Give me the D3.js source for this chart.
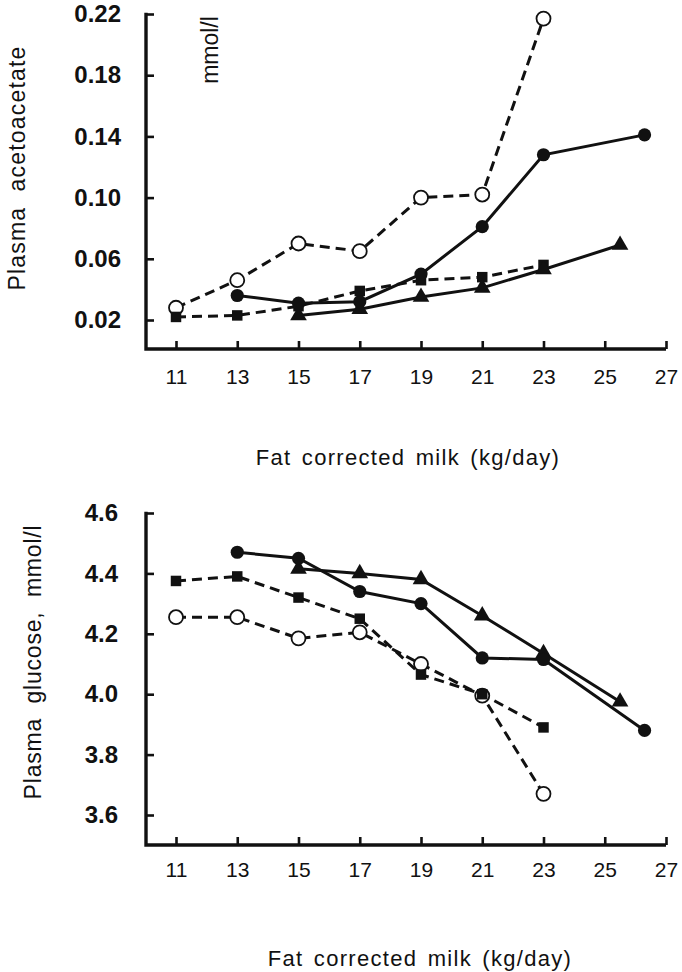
<!DOCTYPE html>
<html>
<head>
<meta charset="utf-8">
<script src="https://cdn.jsdelivr.net/npm/d3@7"></script>
<style>
  html, body { margin: 0; padding: 0; background: #fff; }
  svg { display: block; }
  text { font-family: "Liberation Sans", Arial, Helvetica, sans-serif; fill: #111; }
</style>
</head>
<body>
<svg id="chart" width="682" height="972"></svg>
<script>
// ---------- shared x axis ----------
const xTicks = [11, 13, 15, 17, 19, 21, 23, 25, 27];
const xTitle = "Fat corrected milk (kg/day)";

// ---------- top panel: plasma acetoacetate (mmol/l) ----------
const topYTicks = [0.02, 0.06, 0.10, 0.14, 0.18, 0.22];
const topYTitle = "Plasma  acetoacetate";
const topUnit = "mmol/l";

const topOpenCircleX = [11, 13, 15, 17, 19, 21, 23];
const topOpenCircleY = [0.028, 0.046, 0.070, 0.065, 0.100, 0.102, 0.217];

const topFilledCircleX = [13, 15, 17, 19, 21, 23, 26.3];
const topFilledCircleY = [0.036, 0.031, 0.032, 0.050, 0.081, 0.128, 0.141];

const topSquareX = [11, 13, 15, 17, 19, 21, 23];
const topSquareY = [0.022, 0.023, 0.029, 0.039, 0.046, 0.048, 0.056];

const topTriangleX = [15, 17, 19, 21, 23, 25.5];
const topTriangleY = [0.023, 0.027, 0.035, 0.041, 0.053, 0.069];

// ---------- bottom panel: plasma glucose (mmol/l) ----------
const botYTicks = [3.6, 3.8, 4.0, 4.2, 4.4, 4.6];
const botYTitle = "Plasma  glucose,  mmol/l";

const botFilledCircleX = [13, 15, 17, 19, 21, 23, 26.3];
const botFilledCircleY = [4.47, 4.45, 4.34, 4.30, 4.12, 4.115, 3.88];

const botTriangleX = [15, 17, 19, 21, 23, 25.5];
const botTriangleY = [4.415, 4.40, 4.38, 4.26, 4.135, 3.975];

const botSquareX = [11, 13, 15, 17, 19, 21, 23];
const botSquareY = [4.375, 4.39, 4.32, 4.25, 4.065, 4.0, 3.89];

const botOpenCircleX = [11, 13, 15, 17, 19, 21, 23];
const botOpenCircleY = [4.255, 4.255, 4.185, 4.205, 4.10, 3.995, 3.67];

// ---------- drawing ----------
const svg = d3.select("#chart");
const zip = (xs, ys) => xs.map((x, i) => ({ x, y: ys[i] }));

const INK = "#111";

function panel(cfg) {
  const x = d3.scaleLinear().domain([11, 27]).range([176, 666]);
  const y = d3.scaleLinear().domain(cfg.yDomain).range(cfg.yRange);
  const g = svg.append("g");
  const axisLeftX = 146;
  const axisY = cfg.axisY;

  // x axis
  const xa = g.append("g")
    .attr("transform", `translate(0,${axisY})`)
    .call(d3.axisBottom(x).tickValues(xTicks).tickSize(-8).tickPadding(cfg.xPad).tickFormat(d3.format("d")));
  xa.select(".domain").remove();
  xa.selectAll(".tick line").attr("stroke", INK).attr("stroke-width", 2.6);
  xa.selectAll(".tick text").style("font-size", "21px").attr("fill", INK);

  // y axis
  const ya = g.append("g")
    .attr("transform", `translate(${axisLeftX},0)`)
    .call(d3.axisLeft(y).tickValues(cfg.yTicks).tickSize(-8).tickPadding(cfg.yPad).tickFormat(cfg.yFormat));
  ya.select(".domain").remove();
  ya.selectAll(".tick line").attr("stroke", INK).attr("stroke-width", 2.6);
  ya.selectAll(".tick text").style("font-size", "24px").style("font-weight", "bold").attr("fill", INK);

  // axis lines
  const yTop = y(cfg.yDomain[1]);
  g.append("path")
    .attr("d", `M${axisLeftX},${yTop - 1.3}V${axisY}H${x(27)}`)
    .attr("fill", "none").attr("stroke", INK).attr("stroke-width", 3.4);

  // series
  const line = d3.line().x(d => x(d.x)).y(d => y(d.y));
  cfg.series.forEach(s => {
    g.append("path").datum(s.data)
      .attr("d", line)
      .attr("fill", "none").attr("stroke", INK)
      .attr("stroke-width", 3)
      .attr("stroke-dasharray", s.dashed ? "10,6" : null);
  });
  cfg.series.forEach(s => {
    const pts = g.append("g").selectAll("g").data(s.data).join("g")
      .attr("transform", d => `translate(${x(d.x)},${y(d.y)})`);
    if (s.marker === "openCircle") {
      pts.append("circle").attr("r", 7).attr("fill", "#fff").attr("stroke", INK).attr("stroke-width", 1.8);
    } else if (s.marker === "filledCircle") {
      pts.append("circle").attr("r", 6.6).attr("fill", INK);
    } else if (s.marker === "square") {
      pts.append("path").attr("d", d3.symbol(d3.symbolSquare, 110)).attr("fill", INK);
    } else if (s.marker === "triangle") {
      pts.append("path").attr("d", d3.symbol(d3.symbolTriangle, 120)).attr("fill", INK);
    }
  });

  // x title
  g.append("text")
    .attr("x", cfg.xTitleX).attr("y", cfg.xTitleY)
    .attr("text-anchor", "middle")
    .style("font-size", "22px").style("letter-spacing", "1.3px").style("word-spacing", "3px")
    .text(xTitle);

  // y title
  g.append("text")
    .attr("transform", `translate(${cfg.yTitleX},${cfg.yTitleY}) rotate(-90)`)
    .attr("text-anchor", "middle")
    .style("font-size", cfg.yTitleSize).style("letter-spacing", cfg.yTitleSpacing)
    .style("white-space", "pre")
    .text(cfg.yTitle);

  return { x, y, g };
}

const topPanel = panel({
  yDomain: [0.02, 0.22], yRange: [320, 14], axisY: 349,
  yTicks: topYTicks, yFormat: d3.format(".2f"), yPad: 25, xPad: 20,
  xTitleX: 408, xTitleY: 465,
  yTitle: topYTitle, yTitleX: 25, yTitleY: 168, yTitleSize: "23px", yTitleSpacing: "1.2px",
  series: [
    { data: zip(topOpenCircleX, topOpenCircleY), dashed: true, marker: "openCircle" },
    { data: zip(topSquareX, topSquareY), dashed: true, marker: "square" },
    { data: zip(topTriangleX, topTriangleY), dashed: false, marker: "triangle" },
    { data: zip(topFilledCircleX, topFilledCircleY), dashed: false, marker: "filledCircle" }
  ]
});

topPanel.g.append("text")
  .attr("transform", "translate(218,50) rotate(-90)")
  .attr("text-anchor", "middle")
  .style("font-size", "23px")
  .text(topUnit);

panel({
  yDomain: [3.6, 4.6], yRange: [815, 513], axisY: 845,
  yTicks: botYTicks, yFormat: d3.format(".1f"), yPad: 28, xPad: 17,
  xTitleX: 420, xTitleY: 966,
  yTitle: botYTitle, yTitleX: 41, yTitleY: 662, yTitleSize: "23px", yTitleSpacing: "0.8px",
  series: [
    { data: zip(botOpenCircleX, botOpenCircleY), dashed: true, marker: "openCircle" },
    { data: zip(botSquareX, botSquareY), dashed: true, marker: "square" },
    { data: zip(botTriangleX, botTriangleY), dashed: false, marker: "triangle" },
    { data: zip(botFilledCircleX, botFilledCircleY), dashed: false, marker: "filledCircle" }
  ]
});
</script>
</body>
</html>
